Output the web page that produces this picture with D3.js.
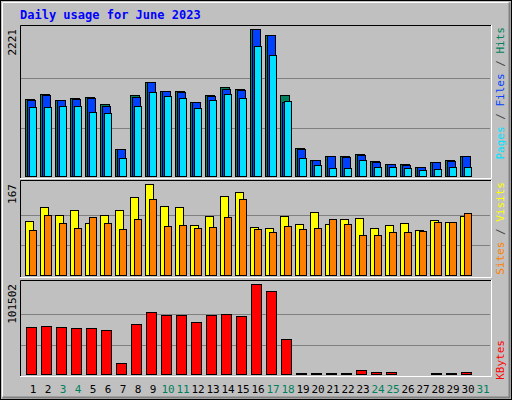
<!DOCTYPE html>
<html><head><meta charset="utf-8">
<script src="https://cdn.jsdelivr.net/npm/d3@7"></script>
<style>body{margin:0;background:#fff}</style>
</head><body><div id="container"></div>
<script>
var w = 512, h = 400;

var days = d3.range(1, 32);
var weekend = [3, 4, 10, 11, 17, 18, 24, 25, 31];
var hits  = [1166,1241,1151,1181,1196,1090,427,1226,1422,1286,1286,1121,1226,1347,1317,2221,2136,1226,442,261,322,322,352,246,201,201,156,231,261,322,0];
var files = [1151,1226,1151,1166,1181,1060,427,1196,1422,1286,1271,1121,1211,1317,1302,2221,2131,1121,427,261,322,307,337,231,201,186,156,231,246,322,0];
var pages = [1045,1045,1060,1060,970,955,291,1060,1271,1211,1181,1030,1151,1241,1181,1965,1829,1136,291,186,141,141,261,156,156,141,111,126,156,156,0];
var visits = [100,125,111,120,96,111,120,143,167,127,125,93,109,145,152,89,87,109,94,116,94,103,105,87,93,96,83,102,98,109,0];
var sites  = [83,111,96,87,107,96,85,103,140,91,93,87,89,107,140,85,80,91,85,87,103,94,74,74,80,80,82,98,98,114,0];
var kbytes = [53539,54655,53539,52424,52424,50193,13385,56886,70270,66924,66924,59116,66924,68039,65809,101502,93694,40154,2231,2231,2231,2231,5577,3346,3346,1115,1115,2231,2231,3346,0];

var svg = d3.select('#container').append('svg').attr('width', w).attr('height', h)
    .style('font-family', 'DejaVu Sans Mono, monospace');

// frame with bevel
svg.append('rect').attr('width', w).attr('height', h).attr('fill', '#c0c0c0');
svg.append('rect').attr('x', 0.5).attr('y', 0.5).attr('width', w - 1).attr('height', h - 1)
    .attr('fill', 'none').attr('stroke', '#000');
svg.append('path').attr('d', 'M2.5,' + (h - 3) + 'V2.5H' + (w - 3)).attr('stroke', '#fff').attr('fill', 'none');
svg.append('path').attr('d', 'M' + (w - 2.5) + ',2.5V' + (h - 2.5) + 'H2.5').attr('stroke', '#808080').attr('stroke-width', 2).attr('fill', 'none');

svg.append('text').attr('x', 20).attr('y', 19).attr('fill', '#0000ff')
    .attr('font-weight', 'bold').attr('font-size', 12).text('Daily usage for June 2023');

var x = d3.scaleLinear().domain([1, 31]).range([25, 475]);
var left = 20, right = 491;

var panels = [
    { top: 25, bottom: 177, max: 2221, label: '2221' },
    { top: 180, bottom: 276, max: 167, label: '167' },
    { top: 280, bottom: 375, max: 101502, label: '101502' }
];
panels.forEach(function(p) {
    svg.append('rect').attr('x', left).attr('y', p.top).attr('width', right - left).attr('height', p.bottom - p.top)
        .attr('fill', '#c0c0c0');
    p.y = d3.scaleLinear().domain([0, p.max]).range([p.bottom, p.top + 4]);
    [1, 2].forEach(function(k) {
        var gy = Math.round(p.bottom - (p.bottom - p.top - 4) * k / 3) + 0.5;
        svg.append('line').attr('x1', left + 1).attr('x2', right - 1).attr('y1', gy).attr('y2', gy)
            .attr('stroke', '#808080');
    });
    svg.append('path').attr('d', 'M' + (left + 0.5) + ',' + (p.bottom + 1) + 'V' + (p.top + 0.5) + 'H' + right)
        .attr('stroke', '#000').attr('fill', 'none');
    svg.append('path').attr('d', 'M' + (right + 0.5) + ',' + p.top + 'V' + (p.bottom + 1.5) + 'H' + left)
        .attr('stroke', '#fff').attr('fill', 'none');
    svg.append('text').attr('transform', 'translate(16,' + (p.top + 4) + ') rotate(-90)')
        .attr('text-anchor', 'end').attr('font-size', 11).attr('fill', '#000').text(p.label);
});

function bars(data, p, dx, bw, color) {
    svg.append('g').selectAll('rect').data(data).enter().append('rect')
        .filter(function(d) { return d > 0; })
        .attr('x', function(d, i) { return x(days[i]) + dx + 0.5; })
        .attr('y', function(d) { return Math.round(p.y(d)) + 0.5; })
        .attr('width', bw)
        .attr('height', function(d) { return p.bottom - Math.round(p.y(d)) - 1; })
        .attr('fill', color).attr('stroke', '#000');
}
bars(hits, panels[0], 0, 9, '#00805c');
bars(files, panels[0], 2, 8, '#0040ff');
bars(pages, panels[0], 4, 7, '#00e0ff');
bars(visits, panels[1], 0, 8, '#ffff00');
bars(sites, panels[1], 4, 7, '#ff8000');
bars(kbytes, panels[2], 1, 10, '#ff0000');

// day labels
svg.append('g').selectAll('text').data(days).enter().append('text')
    .attr('x', function(d) { return x(d) + 8; }).attr('y', 393)
    .attr('text-anchor', 'middle').attr('font-size', 11)
    .attr('fill', function(d) { return weekend.indexOf(d) >= 0 ? '#00805c' : '#000'; })
    .text(function(d) { return d; });

// right legends
function legend(y0, parts) {
    var t = svg.append('text').attr('transform', 'translate(504,' + y0 + ') rotate(-90)')
        .attr('text-anchor', 'end').attr('font-size', 11);
    parts.forEach(function(pt) {
        t.append('tspan').attr('fill', pt[1]).text(pt[0]);
    });
}
legend(27, [['Pages', '#00e0ff'], [' / ', '#404040'], ['Files', '#0040ff'], [' / ', '#404040'], ['Hits', '#00805c']]);
legend(182, [['Sites', '#ff8000'], [' / ', '#404040'], ['Visits', '#ffff00']]);
legend(340, [['KBytes', '#ff0000']]);
</script></body></html>
